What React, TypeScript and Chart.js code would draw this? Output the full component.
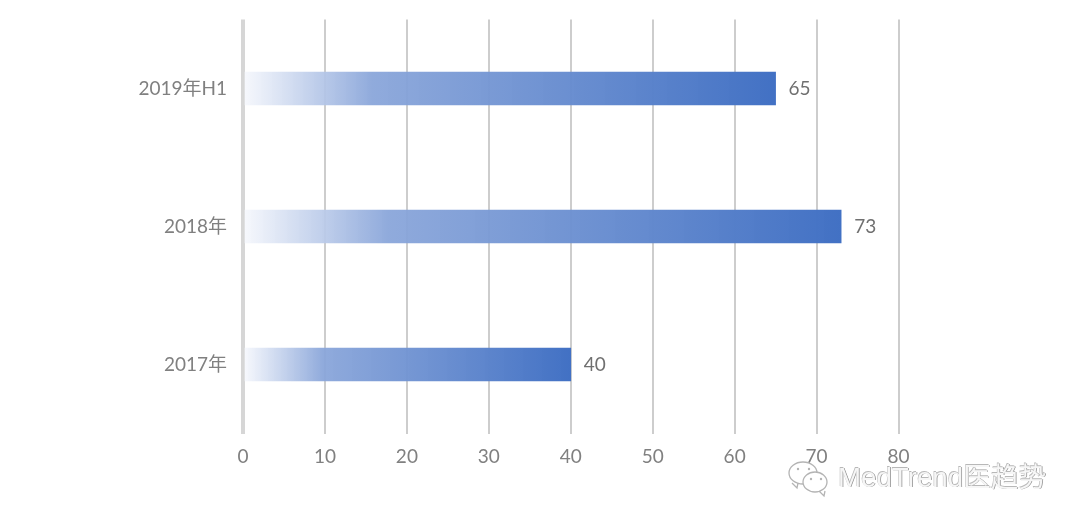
import React, { useEffect, useRef } from "react";
import { Chart, registerables } from "chart.js";

Chart.register(...registerables);

const categories = ["2019年H1", "2018年", "2017年"];
const values = [65, 73, 40];
const xTicksMax = 80;
const xTickStep = 10;
const fontFamily = "Lato, 'Noto Sans CJK SC', sans-serif";
const watermarkText = "MedTrend医趋势";

const barGradient = (ctx: any) => {
  const chart = ctx.chart;
  const xs = chart.scales?.x;
  const v = values[ctx.dataIndex];
  if (!xs || v == null) return "#4472c4";
  const x0 = xs.getPixelForValue(0) + 2;
  const x1 = xs.getPixelForValue(v);
  if (!Number.isFinite(x0) || !Number.isFinite(x1)) return "#4472c4";
  const g = chart.ctx.createLinearGradient(x0, 0, x1, 0);
  g.addColorStop(0, "rgba(245,247,252,0.9)");
  g.addColorStop(0.24, "rgba(138,166,218,0.95)");
  g.addColorStop(1, "rgba(66,113,196,1)");
  return g;
};

const valueLabels = {
  id: "valueLabels",
  afterDatasetsDraw(chart: any) {
    const { ctx } = chart;
    const meta = chart.getDatasetMeta(0);
    ctx.save();
    ctx.font = `19px ${fontFamily}`;
    ctx.fillStyle = "#707070";
    ctx.textAlign = "left";
    ctx.textBaseline = "middle";
    meta.data.forEach((el: any, i: number) => {
      ctx.fillText(String(values[i]), el.x + 13, el.y);
    });
    ctx.restore();
  },
};

const watermark = {
  id: "watermark",
  afterDraw(chart: any) {
    const { ctx } = chart;
    ctx.save();
    const bubble = (cx: number, cy: number, rx: number, ry: number, tx: number, ty: number) => {
      ctx.beginPath();
      ctx.ellipse(cx, cy, rx, ry, 0, 0, Math.PI * 2);
      ctx.moveTo(tx - 5, ty - 5);
      ctx.lineTo(tx, ty);
      ctx.lineTo(tx + 1, ty - 5);
      ctx.fillStyle = "#ffffff";
      ctx.strokeStyle = "#b4b4b4";
      ctx.lineWidth = 1.3;
      ctx.fill();
      ctx.stroke();
    };
    bubble(803, 473, 14, 11, 797, 488);
    bubble(815, 482, 12, 10, 824, 496);
    ctx.fillStyle = "#b4b4b4";
    [[798, 469], [809, 469], [811, 479], [821, 479]].forEach(([x, y]) => {
      ctx.beginPath();
      ctx.arc(x, y, 1.2, 0, Math.PI * 2);
      ctx.fill();
    });
    ctx.font = `27.7px 'Liberation Sans', 'Noto Sans CJK SC', sans-serif`;
    ctx.textAlign = "left";
    ctx.textBaseline = "middle";
    ctx.fillStyle = "#8a8a8a";
    ctx.fillText(watermarkText, 838.7, 479.7);
    ctx.fillStyle = "#b8b8b8";
    ctx.fillText(watermarkText, 837.5, 478.5);
    ctx.fillStyle = "#f6f6f6";
    ctx.fillText(watermarkText, 838, 479);
    ctx.restore();
  },
};

export default function App() {
  const ref = useRef<HTMLCanvasElement | null>(null);

  useEffect(() => {
    document.body.style.margin = "0";
    const chart = new Chart(ref.current as HTMLCanvasElement, {
      type: "bar",
      data: {
        labels: categories,
        datasets: [
          {
            data: values,
            backgroundColor: barGradient,
            barThickness: 33,
            borderWidth: 0,
          },
        ],
      },
      plugins: [valueLabels, watermark],
      options: {
        indexAxis: "y",
        animation: false,
        responsive: false,
        events: [],
        layout: { padding: { top: 19.5, right: 181.5, bottom: 0, left: 0 } },
        plugins: { legend: { display: false }, tooltip: { enabled: false } },
        scales: {
          x: {
            min: 0,
            max: xTicksMax,
            afterFit(scale: any) {
              scale.height = 92.5;
              scale.paddingTop = 0;
              scale.paddingBottom = 0;
            },
            grid: {
              color: (c: any) => (c.index === 0 ? "#d6d6d6" : "#cdcdcd"),
              lineWidth: (c: any) => (c.index === 0 ? 4 : 2),
              drawTicks: false,
            },
            border: { display: false },
            ticks: {
              stepSize: xTickStep,
              color: "#808080",
              padding: 12,
              maxRotation: 0,
              font: { family: fontFamily, size: 19 },
            },
          },
          y: {
            afterFit(scale: any) {
              scale.width = 243;
              scale.paddingTop = 0;
              scale.paddingBottom = 0;
            },
            grid: { display: false, drawTicks: false },
            border: { display: false },
            ticks: {
              color: "#808080",
              padding: 16,
              font: { family: fontFamily, size: 19 },
            },
          },
        },
      },
    } as any);
    return () => chart.destroy();
  }, []);

  return <canvas ref={ref} width={1080} height={526} style={{ display: "block" }} />;
}
